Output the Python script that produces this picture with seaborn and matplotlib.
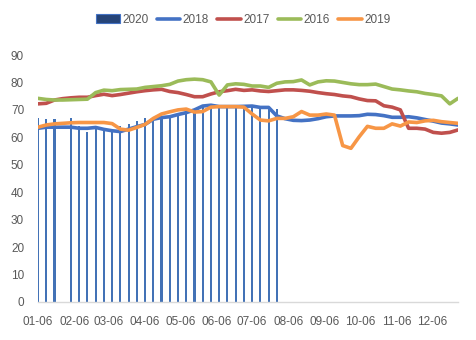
import numpy as np
import pandas as pd
import matplotlib
matplotlib.use("Agg")
import matplotlib.pyplot as plt
from matplotlib.patches import Patch
from matplotlib.lines import Line2D
import seaborn as sns

# ---- data (weekly, starting 01-06) ----
weeks = list(range(52))
tick_labels = ["01-06", "02-06", "03-06", "04-06", "05-06", "06-06",
               "07-06", "08-06", "09-06", "10-06", "11-06", "12-06"]

s2020 = [67, 66.8, 66.8, np.nan, 67, 64, 62, 63, 63, 62,
         64, 65, 66, 67, 66.5, 67, 67.5, 68, 69.5, 70,
         71.5, 71.5, 71.5, 71.5, 71.5, 71.5, 71.5, 71.5, 70.8, 70.2]

s2018 = [63.3, 63.7, 63.7, 63.7, 63.7, 63.3, 63.3, 63.6, 62.9, 62.4,
         62.1, 63.0, 63.9, 64.7, 66.6, 67.2, 67.5, 68.3, 69.0, 70.0,
         71.4, 71.7, 71.2, 71.2, 71.2, 71.3, 71.4, 70.9, 70.9, 67.8,
         66.8, 66.2, 66.1, 66.3, 66.8, 67.5, 67.8, 67.8, 67.8, 67.9,
         68.4, 68.3, 67.9, 67.3, 67.3, 67.5, 67.1, 66.5, 65.9, 65.2,
         64.9, 64.5]

s2017 = [72.2, 72.4, 73.6, 74.1, 74.4, 74.6, 74.6, 75.2, 75.7, 75.2,
         75.6, 76.1, 76.6, 77.0, 77.3, 77.5, 76.7, 76.3, 75.6, 74.8,
         74.8, 75.8, 76.6, 77.0, 77.5, 77.1, 77.3, 76.9, 76.7, 77.0,
         77.3, 77.3, 77.1, 76.8, 76.3, 75.9, 75.6, 75.1, 74.8, 74.0,
         73.4, 73.3, 71.5, 71.0, 70.0, 63.3, 63.3, 63.0, 61.8, 61.5,
         61.8, 62.7]

s2016 = [74.2, 73.8, 73.6, 73.6, 73.7, 73.8, 73.9, 76.3, 77.2, 77.0,
         77.4, 77.5, 77.6, 78.2, 78.5, 78.8, 79.3, 80.5, 81.0, 81.2,
         81.0, 80.2, 75.4, 79.1, 79.5, 79.3, 78.7, 78.7, 78.2, 79.7,
         80.2, 80.3, 80.9, 79.1, 80.2, 80.6, 80.5, 80.0, 79.5, 79.2,
         79.2, 79.4, 78.5, 77.6, 77.3, 76.9, 76.6, 76.0, 75.6, 75.1,
         72.2, 74.2]

s2019 = [63.7, 64.5, 64.9, 65.1, 65.3, 65.4, 65.4, 65.4, 65.4, 65.0,
         63.0, 62.6, 63.6, 64.7, 66.9, 68.5, 69.3, 70.0, 70.3, 69.2,
         69.4, 71.0, 71.2, 71.2, 71.2, 71.0, 68.5, 66.3, 66.0, 66.9,
         66.9, 67.5, 69.4, 68.1, 68.1, 68.5, 68.1, 57.0, 56.0, 60.2,
         64.0, 63.3, 63.3, 64.9, 64.1, 65.6, 65.4, 66.0, 66.2, 65.7,
         65.4, 65.1]

# ---- style ----
sns.set_style("white")
plt.rcParams["font.family"] = ["Liberation Sans", "DejaVu Sans"]

bar_color = "#4372B6"
colors = {"2018": "#4472C4", "2017": "#C0504D", "2016": "#9BBB59", "2019": "#F79646"}

fig = plt.figure(figsize=(4.77, 3.40), dpi=100)
ax = fig.add_axes([38 / 477, 38 / 340, 420 / 477, 247 / 340])

# bars (2020)
bar_df = pd.DataFrame({"week": weeks[:len(s2020)], "value": s2020}).dropna()
sns.barplot(data=bar_df, x="week", y="value", native_scale=True, width=0.26,
            color=bar_color, linewidth=0, errorbar=None, ax=ax, zorder=1,
            saturation=1)

# lines
for name, vals in [("2018", s2018), ("2017", s2017), ("2016", s2016), ("2019", s2019)]:
    df = pd.DataFrame({"week": weeks, "value": vals})
    sns.lineplot(data=df, x="week", y="value", color=colors[name],
                 linewidth=2.6, ax=ax, zorder=3, solid_capstyle="round")

# axes
tick_dates = pd.to_datetime(["2020-" + t[:2] + "-06" for t in tick_labels])
tick_pos = (tick_dates - pd.Timestamp("2020-01-06")).days / 7.0
ax.set_xlim(weeks[0], weeks[-1])
ax.set_ylim(0, 90)
ax.set_xticks(tick_pos)
ax.set_xticklabels(tick_labels)
ax.set_yticks(range(0, 91, 10))
ax.set_xlabel("")
ax.set_ylabel("")
for sp in ["top", "right", "left"]:
    ax.spines[sp].set_visible(False)
ax.spines["bottom"].set_color("#D9D9D9")
ax.spines["bottom"].set_linewidth(1.0)
ax.tick_params(axis="x", colors="#595959", labelsize=8.5, length=4, width=0.8,
               direction="out", pad=6)
ax.tick_params(axis="x", which="both", color="#D9D9D9")
ax.tick_params(axis="y", colors="#595959", labelsize=8.5, length=0, pad=10)
ax.grid(False)

# legend
handles = [Patch(facecolor="#264478", edgecolor="#4472C4", linewidth=0.8, label="2020")]
for name in ["2018", "2017", "2016", "2019"]:
    handles.append(Line2D([0], [0], color=colors[name], linewidth=2.6, label=name))
fig.legend(handles=handles, loc="center", bbox_to_anchor=(0.51, 0.941), ncol=5,
           frameon=False, fontsize=8.5, handlelength=2.0, handleheight=0.8,
           handletextpad=0.2, columnspacing=0.7, labelcolor="#595959")

fig.savefig("out.png", dpi=100)
